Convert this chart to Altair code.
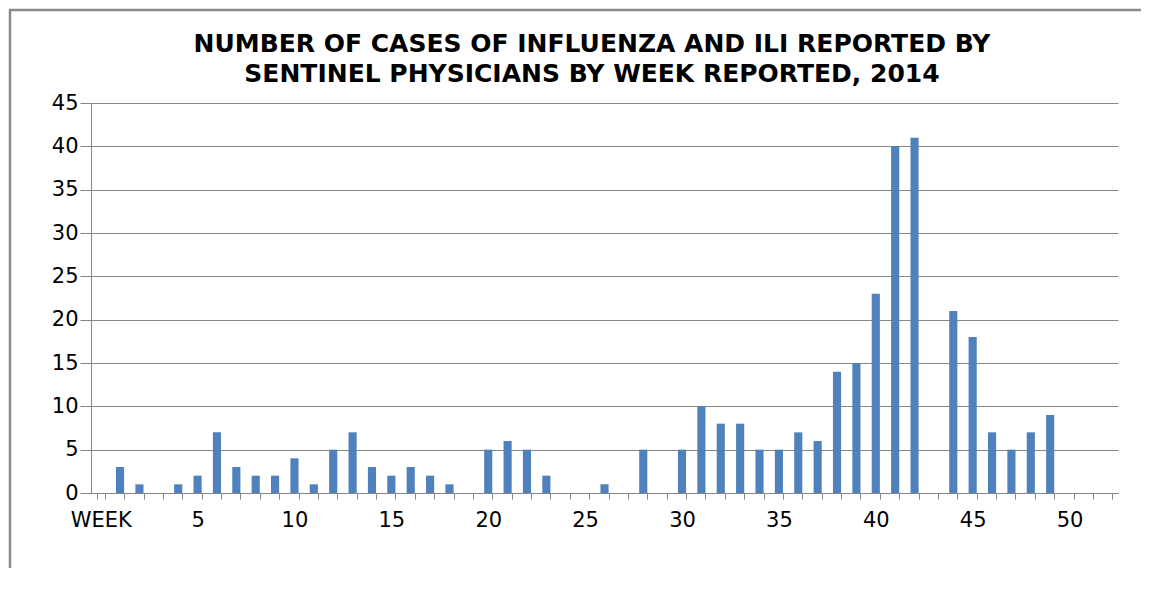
import altair as alt
import pandas as pd

weeks = ["WEEK"] + [str(i) for i in range(1, 53)]
cases = [None,
         3, 1, 0, 1, 2, 7, 3, 2, 2, 4,
         1, 5, 7, 3, 2, 3, 2, 1, 0, 5,
         6, 5, 2, 0, 0, 1, 0, 5, 0, 5,
         10, 8, 8, 5, 5, 7, 6, 14, 15, 23,
         40, 41, 0, 21, 18, 7, 5, 7, 9, 0,
         0, 0]
title_lines = ["NUMBER OF CASES OF INFLUENZA AND ILI REPORTED BY",
               "SENTINEL PHYSICIANS BY WEEK REPORTED, 2014"]

df = pd.DataFrame({"week": weeks, "cases": cases})
tdf = pd.DataFrame({"line": title_lines})

FONT = "DejaVu Sans"
GRAY = "#868686"

bars = alt.Chart(df).mark_bar(color="#4F81BD").encode(
    x=alt.X("week:N", sort=weeks,
            scale=alt.Scale(paddingInner=0.58, paddingOuter=0.29),
            axis=alt.Axis(title=None, labelAngle=0, tickBand="extent",
                          labelExpr="datum.value == 'WEEK' || toNumber(datum.value) % 5 == 0 ? datum.value : ''",
                          labelOverlap=False, labelFont=FONT, labelFontSize=21,
                          labelColor="#000000", labelPadding=10,
                          tickSize=6, tickColor=GRAY, domainColor=GRAY,
                          grid=False)),
    y=alt.Y("cases:Q",
            scale=alt.Scale(domain=[0, 45], nice=False),
            axis=alt.Axis(title=None, values=list(range(0, 50, 5)),
                          labelFont=FONT, labelFontSize=21, labelColor="#000000",
                          labelPadding=2, tickSize=11, tickColor=GRAY,
                          domainColor=GRAY, gridColor=GRAY, gridOpacity=1)),
)

frame_top = alt.Chart(tdf.iloc[[0]]).mark_rule(stroke="#8a8a8a", strokeWidth=2.5).encode(
    x=alt.value(-82), x2=alt.value(1050), y=alt.value(-93)
)
frame_left = alt.Chart(tdf.iloc[[0]]).mark_rule(stroke="#8a8a8a", strokeWidth=2.5).encode(
    x=alt.value(-81), y=alt.value(-94), y2=alt.value(465)
)

title1 = alt.Chart(tdf.iloc[[0]]).mark_text(
    font=FONT, fontSize=25, fontWeight="bold", color="#000000",
    align="center", baseline="middle"
).encode(text="line:N", x=alt.value(501), y=alt.value(-59))

title2 = alt.Chart(tdf.iloc[[1]]).mark_text(
    font=FONT, fontSize=25, fontWeight="bold", color="#000000",
    align="center", baseline="middle"
).encode(text="line:N", x=alt.value(501), y=alt.value(-29))

chart = alt.layer(frame_top, frame_left, bars, title1, title2).properties(
    width=1027, height=390,
    autosize=alt.AutoSizeParams(type="none"),
    padding={"left": 83, "top": 95, "right": 28, "bottom": 85},
).configure_view(stroke=None)

chart.save("out.html", embed_options={"renderer": "svg", "actions": False})
